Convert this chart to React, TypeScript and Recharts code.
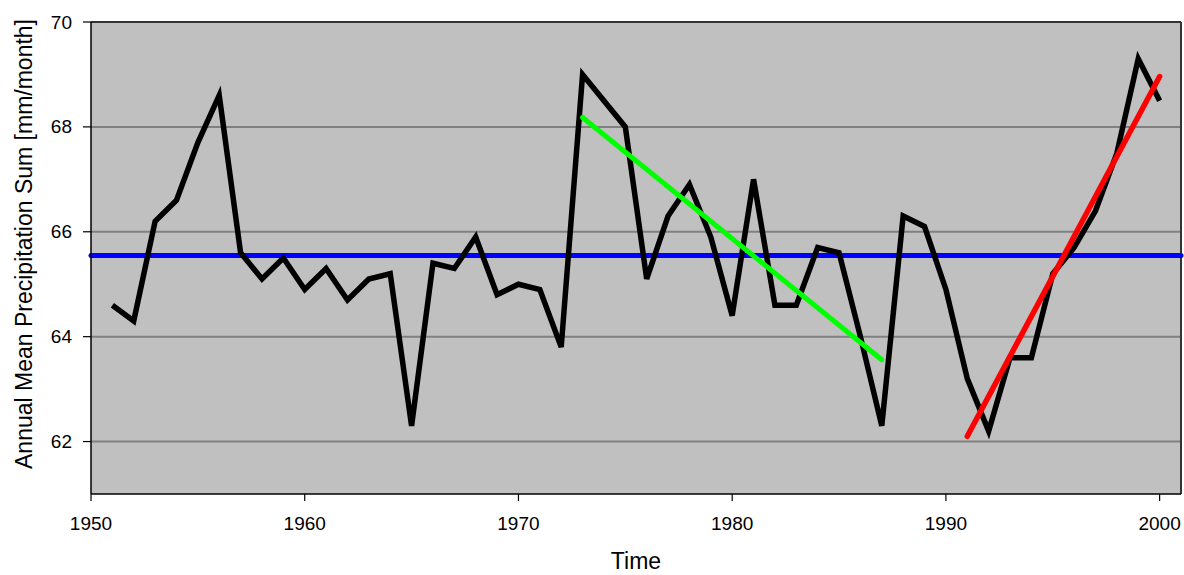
import { LineChart, Line, XAxis, YAxis, CartesianGrid, ReferenceLine } from 'recharts';

// annual mean precipitation
const years = [
  1951, 1952, 1953, 1954, 1955, 1956, 1957, 1958, 1959, 1960,
  1961, 1962, 1963, 1964, 1965, 1966, 1967, 1968, 1969, 1970,
  1971, 1972, 1973, 1974, 1975, 1976, 1977, 1978, 1979, 1980,
  1981, 1982, 1983, 1984, 1985, 1986, 1987, 1988, 1989, 1990,
  1991, 1992, 1993, 1994, 1995, 1996, 1997, 1998, 1999, 2000,
];
const precip = [
  64.6, 64.3, 66.2, 66.6, 67.7, 68.6, 65.6, 65.1, 65.5, 64.9,
  65.3, 64.7, 65.1, 65.2, 62.3, 65.4, 65.3, 65.9, 64.8, 65.0,
  64.9, 63.8, 69.0, 68.5, 68.0, 65.1, 66.3, 66.9, 65.9, 64.4,
  67.0, 64.6, 64.6, 65.7, 65.6, 64.0, 62.3, 66.3, 66.1, 64.9,
  63.2, 62.2, 63.6, 63.6, 65.2, 65.7, 66.4, 67.5, 69.3, 68.5,
];

const meanLevel = 65.55;

// trend segments (start / end)
const greenYears = [1973, 1987];
const greenValues = [68.18, 63.56];
const redYears = [1991, 2000];
const redValues = [62.1, 68.96];

const xTicks = [1950, 1960, 1970, 1980, 1990, 2000];
const yTicks = [62, 64, 66, 68, 70];

const data = years.map((year, i) => ({ year, value: precip[i] }));
const greenData = greenYears.map((year, i) => ({ year, trend: greenValues[i] }));
const redData = redYears.map((year, i) => ({ year, trend: redValues[i] }));

const FONT = 'Arial, "Liberation Sans", sans-serif';

const XTick = ({ x, y, payload }: any) => (
  <text x={x} y={y} dy={13} textAnchor="middle" fill="#000" fontSize={19} fontFamily={FONT}>
    {payload.value}
  </text>
);

const YTick = ({ x, y, payload }: any) => (
  <text x={x} y={y} dy={6.5} textAnchor="end" fill="#000" fontSize={19} fontFamily={FONT}>
    {payload.value}
  </text>
);

const YTitle = () => (
  <text x={24} y={244} transform="rotate(-90 24 244)" textAnchor="middle" dominantBaseline="central" fill="#000" fontSize={23} fontFamily={FONT}>
    Annual Mean Precipitation Sum [mm/month]
  </text>
);

const XTitle = () => (
  <text x={636} y={569} textAnchor="middle" fill="#000" fontSize={23} fontFamily={FONT}>
    Time
  </text>
);

export default function App() {
  return (
    <div style={{ position: 'absolute', left: 0, top: 0, background: '#fff' }}>
      <LineChart width={1184} height={575} data={data} margin={{ top: 22, right: 3, left: 0, bottom: 0 }}>
        <CartesianGrid vertical={false} horizontalValues={yTicks} stroke="#808080" strokeWidth={2} fill="#c0c0c0" fillOpacity={1} />
        <XAxis
          dataKey="year"
          type="number"
          domain={[1950, 2001]}
          ticks={xTicks}
          allowDataOverflow
          height={81}
          axisLine={{ stroke: '#000', strokeWidth: 1.5 }}
          tickLine={{ stroke: '#000', strokeWidth: 1.2 }}
          tickSize={7}
          tickMargin={16}
          tick={<XTick />}
          label={<XTitle />}
        />
        <YAxis
          type="number"
          domain={[61, 70]}
          ticks={yTicks}
          allowDataOverflow
          width={91}
          axisLine={{ stroke: '#000', strokeWidth: 1.5 }}
          tickLine={{ stroke: '#000', strokeWidth: 1.2 }}
          tickSize={8}
          tickMargin={11}
          tick={<YTick />}
          label={<YTitle />}
        />
        <ReferenceLine y={70} stroke="#333" strokeWidth={2} />
        <ReferenceLine x={2001} stroke="#333" strokeWidth={2} />
        <ReferenceLine y={meanLevel} stroke="#0000ff" strokeWidth={5} strokeLinecap="round" />
        <Line dataKey="value" stroke="#000" strokeWidth={5.5} dot={false} strokeLinejoin="miter" isAnimationActive={false} />
        <Line data={greenData} dataKey="trend" stroke="#00ff00" strokeWidth={5} strokeLinecap="round" dot={false} isAnimationActive={false} />
        <Line data={redData} dataKey="trend" stroke="#ff0000" strokeWidth={5.5} strokeLinecap="round" dot={false} isAnimationActive={false} />
      </LineChart>
    </div>
  );
}
